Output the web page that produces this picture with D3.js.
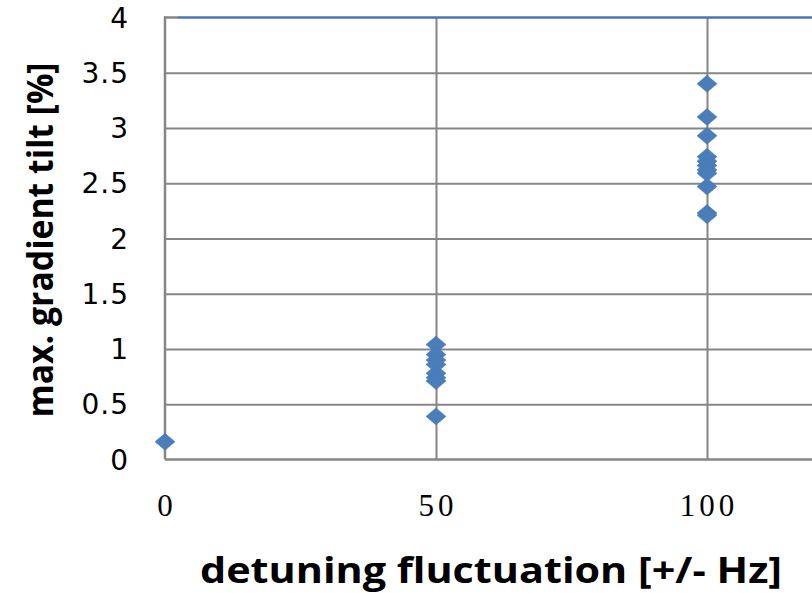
<!DOCTYPE html>
<html>
<head>
<meta charset="utf-8">
<script src="https://cdn.jsdelivr.net/npm/d3@7"></script>
<style>
  html, body { margin: 0; padding: 0; background: #fff; }
  svg { display: block; }
</style>
</head>
<body>
<svg id="chart" width="812" height="593"></svg>
<script>
// Detuning fluctuation (+/- Hz) for each measurement
const detuning = [0,
  50, 50, 50, 50, 50, 50, 50, 50,
  100, 100, 100, 100, 100, 100, 100, 100, 100, 100, 100];
// Maximum gradient tilt (%) for each measurement
const tilt = [0.16,
  1.04, 0.95, 0.90, 0.86, 0.78, 0.74, 0.71, 0.39,
  3.40, 3.10, 2.93, 2.74, 2.70, 2.66, 2.62, 2.59, 2.47, 2.23, 2.21];
const yTicks = [0, 0.5, 1, 1.5, 2, 2.5, 3, 3.5, 4];
const xTicks = [0, 50, 100];

(function draw() {
  const svg = d3.select("#chart");
  const W = 812;
  const plotLeft = 165, plotTop = 17.5, plotBottom = 459.5;

  const x = d3.scaleLinear().domain([0, 150]).range([plotLeft, plotLeft + 271 * 3]);
  const y = d3.scaleLinear().domain([0, 4]).range([plotBottom, plotTop]);

  const grid = "#868686";

  // horizontal gridlines
  svg.append("g")
    .attr("transform", `translate(${plotLeft},0)`)
    .call(d3.axisLeft(y).tickValues(yTicks.filter(v => v > 0 && v < 4))
            .tickSize(-(W - plotLeft)).tickFormat(""))
    .call(g => g.select(".domain").remove())
    .call(g => g.selectAll("line").attr("stroke", grid).attr("stroke-width", 2));

  // vertical gridlines
  svg.append("g")
    .attr("transform", `translate(0,${plotBottom})`)
    .call(d3.axisBottom(x).tickValues(xTicks.filter(v => v > 0))
            .tickSize(-(plotBottom - plotTop)).tickFormat(""))
    .call(g => g.select(".domain").remove())
    .call(g => g.selectAll("line").attr("stroke", grid).attr("stroke-width", 2));

  // plot frame: left and bottom in grey, top edge in blue
  svg.append("line").attr("x1", plotLeft).attr("x2", plotLeft).attr("y1", plotTop - 1).attr("y2", plotBottom)
    .attr("stroke", grid).attr("stroke-width", 2.5);
  svg.append("line").attr("x1", plotLeft).attr("x2", W).attr("y1", plotBottom).attr("y2", plotBottom)
    .attr("stroke", grid).attr("stroke-width", 2.5);
  svg.append("line").attr("x1", plotLeft - 1).attr("x2", plotLeft + 13).attr("y1", plotTop).attr("y2", plotTop)
    .attr("stroke", grid).attr("stroke-width", 2.5);
  svg.append("line").attr("x1", plotLeft + 13).attr("x2", W).attr("y1", plotTop).attr("y2", plotTop)
    .attr("stroke", "#4677b8").attr("stroke-width", 2.5);

  // y tick labels
  svg.append("g")
    .selectAll("text")
    .data(yTicks)
    .join("text")
    .attr("x", 129)
    .attr("y", d => y(d))
    .attr("dy", "0.36em")
    .attr("text-anchor", "end")
    .attr("font-family", "'DejaVu Sans', Verdana, sans-serif")
    .attr("font-size", 28)
    .attr("letter-spacing", 1)
    .attr("fill", "#000")
    .text(d => d3.format("~g")(d));

  // x tick labels
  svg.append("g")
    .selectAll("text")
    .data(xTicks)
    .join("text")
    .attr("x", d => x(d) + 2)
    .attr("y", 505)
    .attr("dy", "0.36em")
    .attr("text-anchor", "middle")
    .attr("font-family", "'Liberation Serif', 'Times New Roman', serif")
    .attr("font-size", 31)
    .attr("letter-spacing", 4)
    .attr("fill", "#000")
    .text(d => d);

  // diamond markers
  const diamond = (cx, cy) => {
    const hw = 10, hh = 8.5;
    return `M${cx},${cy - hh}L${cx + hw},${cy}L${cx},${cy + hh}L${cx - hw},${cy}Z`;
  };
  svg.append("g")
    .selectAll("path")
    .data(tilt.map((t, i) => ({ x: detuning[i], y: t })))
    .join("path")
    .attr("d", d => diamond(x(d.x), y(d.y)))
    .attr("fill", "#4a7ebb")
    .attr("stroke", "#4677b3")
    .attr("stroke-width", 0.5);

  // axis titles
  svg.append("text")
    .attr("x", 491)
    .attr("y", 583)
    .attr("text-anchor", "middle")
    .attr("font-family", "'Open Sans', 'Liberation Sans', sans-serif")
    .attr("font-weight", "bold")
    .attr("font-size", 35)
    .attr("textLength", 582)
    .attr("lengthAdjust", "spacingAndGlyphs")
    .text("detuning fluctuation [+/- Hz]");

  svg.append("text")
    .attr("transform", "translate(53,240) rotate(-90)")
    .attr("text-anchor", "middle")
    .attr("font-family", "'Open Sans', 'Liberation Sans', sans-serif")
    .attr("font-weight", "bold")
    .attr("font-size", 35)
    .attr("textLength", 355)
    .attr("lengthAdjust", "spacingAndGlyphs")
    .text("max. gradient tilt [%]");
})();
</script>
</body>
</html>
